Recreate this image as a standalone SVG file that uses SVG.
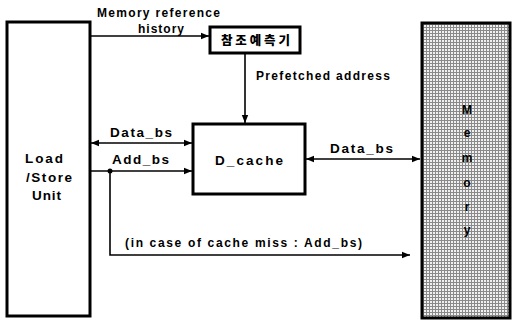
<svg xmlns="http://www.w3.org/2000/svg" width="512" height="322" viewBox="0 0 512 322">
<style>
.t{font-family:"Liberation Sans",Arial,sans-serif;font-size:12px;font-weight:bold;fill:#000}
.m{font-size:13.5px}
.k{font-family:"Noto Sans CJK KR","Liberation Sans",sans-serif;font-size:12.5px;font-weight:900;fill:#000}
.box{fill:#fff;stroke:#000;stroke-width:3}
.ln{fill:none;stroke:#000;stroke-width:1.6}
</style>
<defs>
<marker id="ah" viewBox="0 0 10 10" refX="10" refY="5" markerWidth="8" markerHeight="8" markerUnits="userSpaceOnUse" orient="auto-start-reverse">
<path d="M0,1 L10,5 L0,9 Z" fill="#000"/>
</marker>
<pattern id="grid" width="3" height="3" patternUnits="userSpaceOnUse">
<rect width="3" height="3" fill="#f0f0f0"/>
<path d="M0,0.5 H3 M0.5,0 V3" stroke="#8a8a8a" stroke-width="1"/>
</pattern>
</defs>
<g id="loadstore">
<rect class="box" x="7" y="22" width="83" height="294"/>
<text class="t m" x="25" y="163" textLength="38" lengthAdjust="spacing">Load</text>
<text class="t m" x="26" y="182" textLength="46" lengthAdjust="spacing">/Store</text>
<text class="t m" x="32" y="200" textLength="29" lengthAdjust="spacing">Unit</text>
</g>
<g id="memory">
<rect x="422" y="23" width="88" height="295" fill="url(#grid)" stroke="#000" stroke-width="3"/>
<g class="t" text-anchor="middle" font-size="13">
<text x="467" y="114">M</text>
<text x="467" y="137">e</text>
<text x="467" y="162">m</text>
<text x="467" y="187">o</text>
<text x="467" y="211">r</text>
<text x="467" y="234">y</text>
</g>
</g>
<g id="predictor">
<rect class="box" x="210" y="27" width="90" height="26"/>
<text class="k" x="221" y="45" textLength="69" lengthAdjust="spacing">참조예측기</text>
</g>
<g id="dcache">
<rect class="box" x="193" y="124" width="112" height="70"/>
<text class="t m" x="215" y="165" textLength="68" lengthAdjust="spacing">D_cache</text>
</g>
<g id="connectors">
<line class="ln" x1="90" y1="36" x2="209" y2="36" marker-end="url(#ah)"/>
<line class="ln" x1="245" y1="53" x2="245" y2="123" marker-end="url(#ah)"/>
<line class="ln" x1="91" y1="143" x2="192" y2="143" marker-start="url(#ah)" marker-end="url(#ah)"/>
<line class="ln" x1="90" y1="171" x2="192" y2="171" marker-end="url(#ah)"/>
<circle cx="110" cy="171" r="2.5" fill="#000"/>
<polyline class="ln" points="110,171 110,255 410,255" marker-end="url(#ah)"/>
<line class="ln" x1="306" y1="159" x2="420" y2="159" marker-start="url(#ah)" marker-end="url(#ah)"/>
</g>
<g id="labels">
<text class="t" x="97" y="17" textLength="123" lengthAdjust="spacing">Memory reference</text>
<text class="t" x="138" y="33" textLength="46" lengthAdjust="spacing">history</text>
<text class="t" x="256" y="80" textLength="134" lengthAdjust="spacing">Prefetched address</text>
<text class="t m" x="110" y="137" textLength="62" lengthAdjust="spacing">Data_bs</text>
<text class="t m" x="112" y="164" textLength="57" lengthAdjust="spacing">Add_bs</text>
<text class="t m" x="330" y="153" textLength="63" lengthAdjust="spacing">Data_bs</text>
<text class="t" x="125" y="247" textLength="237" lengthAdjust="spacing">(in case of cache miss : Add_bs)</text>
</g>
</svg>
